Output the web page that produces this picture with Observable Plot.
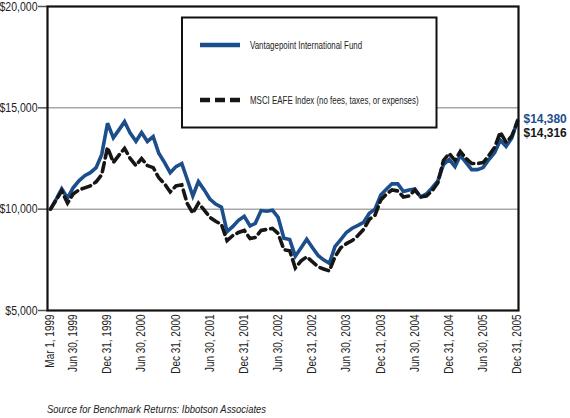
<!DOCTYPE html>
<html>
<head>
<meta charset="utf-8">
<script src="https://cdn.jsdelivr.net/npm/d3@7"></script>
<script src="https://cdn.jsdelivr.net/npm/@observablehq/plot@0.6"></script>
<style>
  html, body { margin: 0; padding: 0; background: #fff; }
  #wrap { position: relative; width: 570px; height: 418px; font-family: "Liberation Sans", Arial, sans-serif; }
  #caption { position: absolute; left: 47px; top: 403px; font-size: 11.5px; font-style: italic; color: #222; white-space: nowrap; }
  #caption span { display: inline-block; transform-origin: 0 50%; }
</style>
</head>
<body>
<div id="wrap"><div id="chart"></div><div id="caption"><span>Source for Benchmark Returns: Ibbotson Associates</span></div></div>
<script>
// Series (value of $10,000 invested, start Mar 1 1999 then month-ends Mar 1999 .. Dec 2005)
const fundValues = [
  10000, 10480, 11000, 10550, 11050, 11400, 11650, 11800, 12050, 12700, 14240,
  13520, 13900, 14320, 13750, 13350, 13780, 13340, 13580, 12760, 12300, 11800, 12100,
  12250, 11500, 10650, 11360, 10950, 10500, 10250, 10100, 8890, 9150, 9450, 9650,
  9170, 9300, 9930, 9900, 9950, 9600, 8570, 8500, 7680, 8100, 8520, 8100,
  7700, 7500, 7330, 8150, 8500, 8850, 9060, 9200, 9350, 9800, 10000, 10700,
  10990, 11250, 11250, 10870, 10950, 11000, 10600, 10750, 11050, 11400, 12200, 12450,
  12100, 12650, 12300, 11950, 11950, 12050, 12450, 12800, 13400, 13100, 13500, 14380
];
const msciValues = [
  10000, 10450, 10900, 10300, 10750, 10950, 11050, 11150, 11350, 11700, 13050,
  12300, 12650, 13000, 12500, 12150, 12500, 12150, 12050, 11550, 11250, 10850, 11150,
  11200, 10300, 9800, 10300, 9950, 9600, 9400, 9250, 8450, 8700, 8850, 8950,
  8550, 8600, 8950, 9000, 9050, 8800, 8000, 7950, 7100, 7450, 7650, 7400,
  7150, 7050, 6950, 7650, 8100, 8300, 8450, 8700, 9000, 9500, 9700, 10450,
  10750, 10950, 10900, 10600, 10650, 10950, 10600, 10650, 10900, 11300, 12400, 12750,
  12400, 12850, 12500, 12250, 12250, 12300, 12650, 13050, 13800, 13300, 13600, 14316
];
const seriesNames = ["Vantagepoint International Fund", "MSCI EAFE Index (no fees, taxes, or expenses)"];
const endLabels = ["$14,380", "$14,316"];
const tickDates = ["1999-03-01","1999-06-30","1999-12-31","2000-06-30","2000-12-31","2001-06-30","2001-12-31",
  "2002-06-30","2002-12-31","2003-06-30","2003-12-31","2004-06-30","2004-12-31","2005-06-30","2005-12-31"];
const tickLabels = ["Mar 1, 1999","Jun 30, 1999","Dec 31, 1999","Jun 30, 2000","Dec 31, 2000","Jun 30, 2001","Dec 31, 2001",
  "Jun 30, 2002","Dec 31, 2002","Jun 30, 2003","Dec 31, 2003","Jun 30, 2004","Dec 31, 2004","Jun 30, 2005","Dec 31, 2005"];
const yTicks = [5000, 10000, 15000, 20000];
const gridValues = [10000, 15000];

// dates: Mar 1 1999, then last day of each month
const dates = fundValues.map((_, k) => k === 0 ? new Date(Date.UTC(1999, 2, 1)) : new Date(Date.UTC(1999, 2 + k, 0)));
const fund = fundValues.map((v, k) => ({date: dates[k], value: v}));
const msci = msciValues.map((v, k) => ({date: dates[k], value: v}));
const tickD = tickDates.map(s => new Date(s + "T00:00:00Z"));
const labelOf = new Map(tickD.map((d, i) => [+d, tickLabels[i]]));

const BLUE = "#1b4e8a";
const BLACK = "#161616";
const FONT = "'Liberation Sans', Arial, sans-serif";

const chart = Plot.plot({
  width: 570,
  height: 392,
  marginLeft: 47,
  marginRight: 52,
  marginTop: 6,
  marginBottom: 82,
  style: {fontFamily: FONT, color: "#222", background: "#fff", overflow: "visible"},
  x: {type: "utc", domain: [tickD[0], tickD[tickD.length - 1]], insetLeft: 3, insetRight: 1},
  y: {domain: [5000, 20000]},
  marks: [
    Plot.ruleY(gridValues, {stroke: "#a8a8a8", strokeWidth: 1.5}),
    Plot.axisY(yTicks, {tickFormat: d => "$" + d3.format(",")(d), tickSize: 9, tickPadding: 1, fontSize: 13, stroke: "#555", strokeWidth: 1.5, label: null}),
    Plot.axisX(tickD, {tickFormat: d => labelOf.get(+d), tickRotate: -90, tickSize: 0, tickPadding: 4, fontSize: 12, label: null}),
    Plot.line(fund, {x: "date", y: "value", stroke: BLUE, strokeWidth: 3.6, strokeLinejoin: "miter", strokeMiterlimit: 3}),
    Plot.line(msci, {x: "date", y: "value", stroke: BLACK, strokeWidth: 3.6, strokeDasharray: "9,5", strokeLinejoin: "miter", strokeMiterlimit: 3}),
    Plot.frame({stroke: "#111", strokeWidth: 2.2}),
    Plot.text([fund[fund.length - 1]], {x: "date", y: "value", text: () => endLabels[0], dx: 6, dy: -2, textAnchor: "start", fill: BLUE, fontWeight: "bold", fontSize: 13}),
    Plot.text([msci[msci.length - 1]], {x: "date", y: "value", text: () => endLabels[1], dx: 6, dy: 11.5, textAnchor: "start", fill: BLACK, fontWeight: "bold", fontSize: 13})
  ]
});
document.getElementById("chart").appendChild(chart);

// legend box drawn inside the chart
const svg = d3.select(chart);
const lg = svg.append("g").attr("font-family", FONT).attr("text-anchor", "start");
lg.append("rect").attr("x", 182).attr("y", 17.5).attr("width", 254.5).attr("height", 110)
  .attr("fill", "#fff").attr("stroke", "#111").attr("stroke-width", 2);
const rows = [
  {y: 45, stroke: BLUE, dash: null},
  {y: 100, stroke: BLACK, dash: "10,5"}
];
rows.forEach((r, i) => {
  lg.append("line").attr("x1", 200).attr("x2", 240).attr("y1", r.y).attr("y2", r.y)
    .attr("stroke", r.stroke).attr("stroke-width", 4.5).attr("stroke-dasharray", r.dash);
  lg.append("text").attr("class", "lgtext").attr("x", 250).attr("y", r.y).attr("dy", "0.35em")
    .attr("font-size", 11).attr("fill", "#222").text(seriesNames[i]);
});

// condensed look: compress glyphs horizontally
function squeeze(sel, f) {
  sel.each(function () {
    const L = this.getComputedTextLength();
    if (L > 0) { this.setAttribute("textLength", L * f); this.setAttribute("lengthAdjust", "spacingAndGlyphs"); }
  });
}
squeeze(svg.selectAll('g[aria-label="y-axis tick label"] text'), 0.81);
squeeze(svg.selectAll('g[aria-label="x-axis tick label"] text'), 0.83);
squeeze(svg.selectAll('g[aria-label="text"] text'), 0.92);
squeeze(svg.selectAll('text.lgtext'), 0.72);
const cap = document.querySelector("#caption span");
cap.style.transform = "scaleX(" + (219 / cap.getBoundingClientRect().width) + ")";
</script>
</body>
</html>
